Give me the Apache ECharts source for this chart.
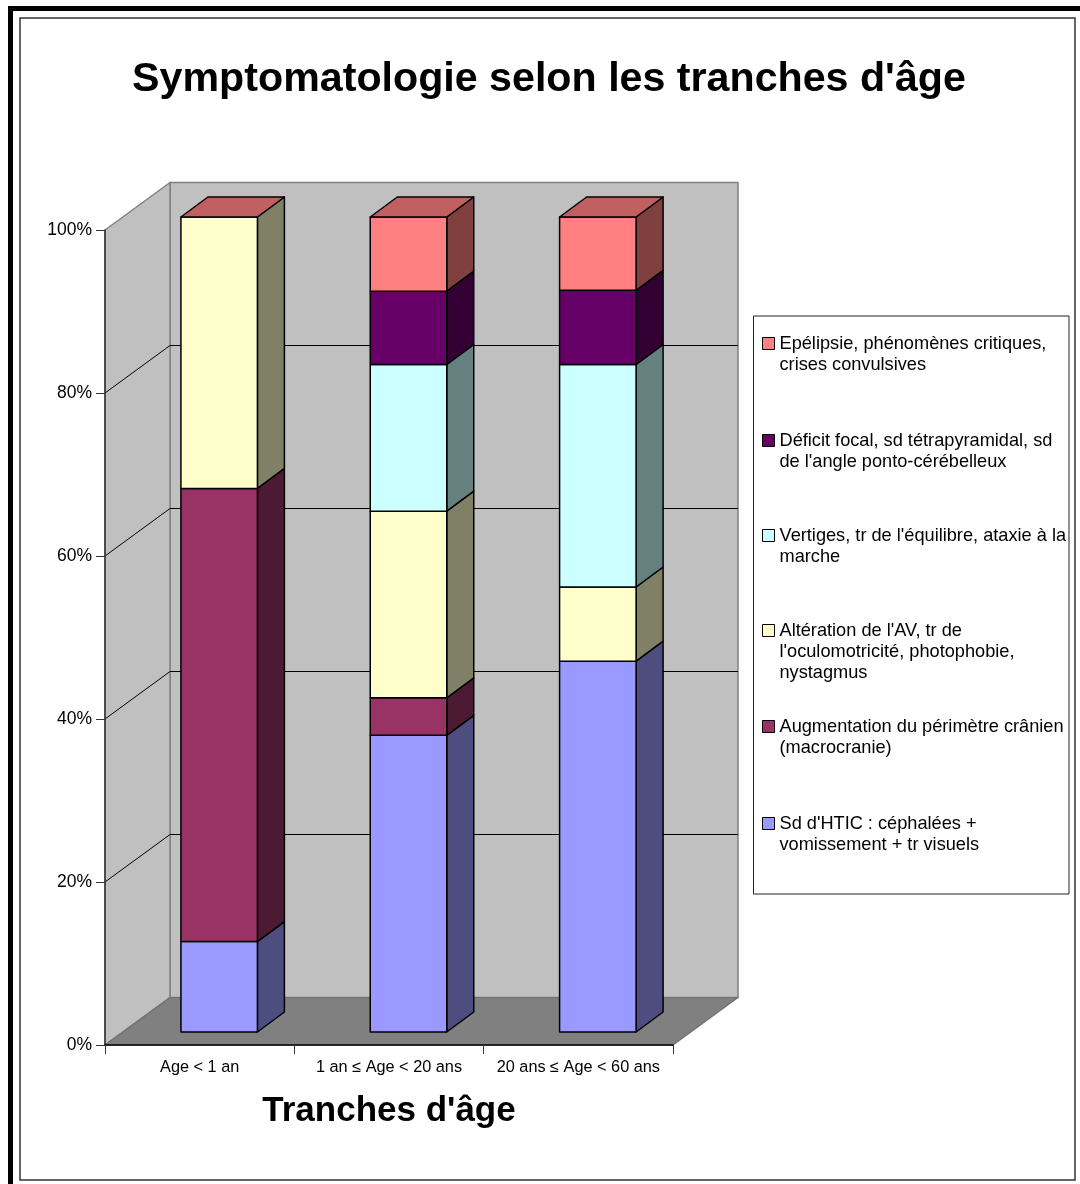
<!DOCTYPE html>
<html><head><meta charset="utf-8">
<style>html,body{margin:0;padding:0;background:#fff}#c{width:1080px;height:1184px}</style>
<script src="https://cdn.jsdelivr.net/npm/echarts@6/dist/echarts.min.js"></script>
</head><body><div id="c"></div>
<script>
const chartTitle = "Symptomatologie selon les tranches d'âge";
const xName = "Tranches d'âge";
const categories = ["Age < 1 an", "1 an ≤ Age < 20 ans", "20 ans ≤ Age < 60 ans"];
const yTicks = [0, 20, 40, 60, 80, 100];

const seriesNames = [
  "Sd d'HTIC : céphalées +\nvomissement + tr visuels",
  "Augmentation du périmètre crânien\n(macrocranie)",
  "Altération de l'AV, tr de\nl'oculomotricité, photophobie,\nnystagmus",
  "Vertiges, tr de l'équilibre, ataxie à la\nmarche",
  "Déficit focal, sd tétrapyramidal, sd\nde l'angle ponto-cérébelleux",
  "Epélipsie, phénomènes critiques,\ncrises convulsives"
];
const htic      = [11.1, 36.4, 45.5];
const macro     = [55.6,  4.6,  0.0];
const av        = [33.3, 22.9,  9.1];
const vertiges  = [ 0.0, 18.0, 27.3];
const deficit   = [ 0.0,  9.0,  9.1];
const epilepsie = [ 0.0,  9.1,  9.0];
const values = [htic, macro, av, vertiges, deficit, epilepsie];

const frontColors = ["#9999FF", "#993366", "#FFFFCC", "#CCFFFF", "#660066", "#FF8080"];
const sideColors  = ["#4D4D80", "#4D1A33", "#808066", "#668080", "#330033", "#804040"];
const topColor = "#C06060";
const legendFirstLineY = [823, 726, 630, 535, 440, 343];

const FONT = "'Liberation Sans', Arial, sans-serif";
const WALL_DX = 65, WALL_DY = -47.5;
const BAR_OX = 19.5, BAR_OY = -13, BAR_DX = 27, BAR_DY = -20, BAR_W = 0.404;
const LINE_H = 21;

function poly(points, fill, stroke, lw) {
  return { type: 'polygon', shape: { points }, style: { fill, stroke, lineWidth: lw, lineJoin: 'round' } };
}
function line(a, b, stroke, lw) {
  return { type: 'line', shape: { x1: a[0], y1: a[1], x2: b[0], y2: b[1] }, style: { stroke, lineWidth: lw } };
}

function renderWalls(params, api) {
  const cs = params.coordSys;
  const L = cs.x, R = cs.x + cs.width, B = cs.y + cs.height, T = cs.y;
  const dx = WALL_DX, dy = WALL_DY;
  const kids = [
    poly([[L + dx, T + dy], [R + dx, T + dy], [R + dx, B + dy], [L + dx, B + dy]], '#C0C0C0', '#808080', 1.5),
    poly([[L, T], [L + dx, T + dy], [L + dx, B + dy], [L, B]], '#C0C0C0', '#808080', 1.5),
    poly([[L, B], [L + dx, B + dy], [R + dx, B + dy], [R, B]], '#808080', '#707070', 1.2)
  ];
  yTicks.slice(1, -1).forEach(v => {
    const y = api.coord([0, v])[1];
    kids.push(line([L, y], [L + dx, y + dy], '#000', 1));
    kids.push(line([L + dx, y + dy], [R + dx, y + dy], '#000', 1));
  });
  return { type: 'group', children: kids };
}

function makeRender(si) {
  return function (params, api) {
    const c = api.value(0), v0 = api.value(2), v1 = v0 + api.value(1);
    const w = api.size([1, 0])[0] * BAR_W;
    const pb = api.coord([c, v0]), pt = api.coord([c, v1]);
    const xl = pb[0] + BAR_OX - w / 2, xr = xl + w;
    const yb = pb[1] + BAR_OY, yt = pt[1] + BAR_OY;
    const kids = [];
    if (api.value(1) > 0) {
      kids.push(poly([[xr, yb], [xr + BAR_DX, yb + BAR_DY], [xr + BAR_DX, yt + BAR_DY], [xr, yt]], sideColors[si], '#000', 1.5));
      kids.push(poly([[xl, yb], [xr, yb], [xr, yt], [xl, yt]], frontColors[si], '#000', 1.5));
    }
    if (si === values.length - 1) {
      kids.push(poly([[xl, yt], [xr, yt], [xr + BAR_DX, yt + BAR_DY], [xl + BAR_DX, yt + BAR_DY]], topColor, '#000', 1.5));
    }
    return { type: 'group', children: kids };
  };
}

const barSeries = values.map((arr, si) => ({
  type: 'custom',
  name: seriesNames[si],
  coordinateSystem: 'cartesian2d',
  encode: { x: 0, y: 1 },
  clip: false,
  z: 3,
  itemStyle: { color: frontColors[si] },
  renderItem: makeRender(si),
  data: arr.map((v, c) => {
    let base = 0;
    for (let k = 0; k < si; k++) base += values[k][c];
    return [c, v, base];
  })
}));

const legends = seriesNames.map((name, si) => {
  const n = name.split('\n').length, h = n * LINE_H;
  const a = LINE_H / 2 - 6, b = a + 12;
  return {
    left: 762,
    top: legendFirstLineY[si] - LINE_H / 2,
    padding: 0,
    selectedMode: false,
    itemWidth: 12,
    itemHeight: h,
    itemStyle: { borderColor: '#000', borderWidth: 1 },
    textStyle: { fontFamily: FONT, fontSize: 18.2, lineHeight: LINE_H, color: '#000' },
    data: [{ name, icon: `path://M0 0L0 0M0 ${h}L0 ${h}M0 ${a}L12 ${a}L12 ${b}L0 ${b}Z` }]
  };
});

const chart = echarts.init(document.getElementById('c'), null, { renderer: 'canvas' });
chart.setOption({
  animation: false,
  backgroundColor: '#fff',
  title: {
    text: chartTitle, left: 544, top: 54, textAlign: 'center',
    textStyle: { fontFamily: FONT, fontSize: 41.2, fontWeight: 'bold', color: '#000' }
  },
  legend: legends,
  grid: { left: 105, right: 407, top: 230, bottom: 139, containLabel: false },
  xAxis: {
    type: 'category', data: categories, z: 5,
    name: xName, nameLocation: 'middle', nameGap: 49,
    nameTextStyle: { fontFamily: FONT, fontSize: 35, fontWeight: 'bold', color: '#000' },
    axisLine: { show: true, lineStyle: { color: '#000', width: 1.5 } },
    axisTick: { show: true, alignWithLabel: false, length: 9, lineStyle: { color: '#333', width: 1 } },
    axisLabel: { interval: 0, margin: 15, fontFamily: FONT, fontSize: 16.3, color: '#000' },
    splitLine: { show: false }
  },
  yAxis: {
    type: 'value', min: 0, max: 100, interval: 20, z: 5,
    axisLine: { show: true, lineStyle: { color: '#333', width: 1.5 } },
    axisTick: { show: true, length: 9, lineStyle: { color: '#333', width: 1 } },
    axisLabel: { margin: 13, fontFamily: FONT, fontSize: 17.5, color: '#000', formatter: '{value}%' },
    splitLine: { show: false }
  },
  graphic: [
    { type: 'rect', z: -10, shape: { x: 8, y: 6, width: 1072, height: 5 }, style: { fill: '#000' } },
    { type: 'rect', z: -10, shape: { x: 8, y: 6, width: 5, height: 1178 }, style: { fill: '#000' } },
    { type: 'rect', z: -9, shape: { x: 20, y: 18, width: 1055, height: 1162 }, style: { fill: '#fff', stroke: '#333', lineWidth: 1.5 } },
    { type: 'rect', z: -8, shape: { x: 753.5, y: 316, width: 315.5, height: 578 }, style: { fill: '#fff', stroke: '#222', lineWidth: 1 } }
  ],
  series: [{
    type: 'custom', name: 'walls', coordinateSystem: 'cartesian2d', clip: false, z: 1,
    encode: { x: 0, y: 1 }, silent: true,
    renderItem: renderWalls, data: [[0, 0]]
  }].concat(barSeries)
});
</script></body></html>
